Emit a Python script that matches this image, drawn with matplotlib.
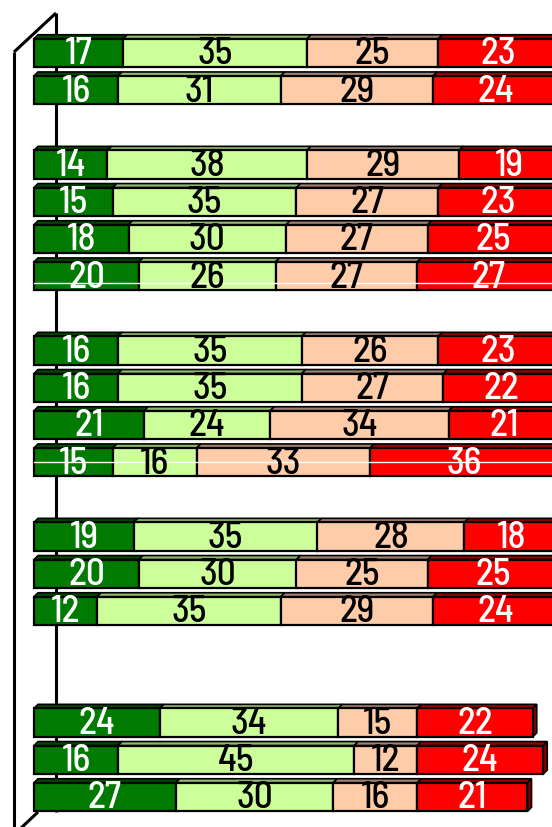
import matplotlib
matplotlib.use("Agg")
import matplotlib.pyplot as plt
from matplotlib.patches import Polygon
from matplotlib import font_manager

# Row slots (blank slots separate the groups)
rows = [0, 1, 3, 4, 5, 6, 8, 9, 10, 11, 13, 14, 15, 18, 19, 20]
very_good = [17, 16, 14, 15, 18, 20, 16, 16, 21, 15, 19, 20, 12, 24, 16, 27]
good      = [35, 31, 38, 35, 30, 26, 35, 35, 24, 16, 35, 30, 35, 34, 45, 30]
poor      = [25, 29, 29, 27, 27, 27, 26, 27, 34, 33, 28, 25, 29, 15, 12, 16]
very_poor = [23, 24, 19, 23, 25, 27, 23, 22, 21, 36, 18, 25, 24, 22, 24, 21]

series = [very_good, good, poor, very_poor]
face_colors = ["#007A00", "#CCFF99", "#FFCCAA", "#FF0000"]
top_colors = ["#004A00", "#8FB86B", "#A08070", "#990000"]
text_colors = ["white", "black", "black", "white"]

names = {f.name for f in font_manager.fontManager.ttflist}
label_font = "DejaVu Sans"
for cand in ["Liberation Sans Narrow", "Barlow Semi Condensed", "Archivo Narrow"]:
    if cand in names:
        label_font = cand
        break

W, H, DPI = 552, 827, 100
fig = plt.figure(figsize=(W / DPI, H / DPI), dpi=DPI)
ax = fig.add_axes([0, 0, 1, 1])
ax.set_axis_off()

# pixel geometry of the plot
x0_px, px_per_unit = 34, 5.25
y0_px, px_per_row = 53, 37.2
ax.set_xlim(-x0_px / px_per_unit, (W - x0_px) / px_per_unit)
ax.set_ylim((H - y0_px) / px_per_row, -y0_px / px_per_row)

def px(xp, yp):
    return ((xp - x0_px) / px_per_unit, (yp - y0_px) / px_per_row)

# back wall and floor edges
wall = dict(color="black", lw=2.2, zorder=1, solid_capstyle="butt")
ax.plot(*zip(px(56, 13), px(56, 812)), **wall)
ax.plot(*zip(px(14, 52), px(14, 830)), **wall)
ax.plot(*zip(px(14, 52), px(56, 13)), **wall)
ax.plot(*zip(px(38, 812), px(20, 829)), **wall)

bar_h = 28.5 / px_per_row
dx = 4.0 / px_per_unit
dy = 4.0 / px_per_row

for i, r in enumerate(rows):
    left = 0
    top = r - bar_h / 2
    bot = r + bar_h / 2
    for s, vals in enumerate(series):
        v = vals[i]
        right = left + v
        ax.barh(r, v, left=left, height=bar_h, color=face_colors[s],
                edgecolor="black", linewidth=1.6, zorder=3)
        ax.add_patch(Polygon([(left, top), (right, top), (right + dx, top - dy),
                              (left + dx, top - dy)], closed=True,
                             facecolor=top_colors[s], edgecolor="black",
                             linewidth=1.2, zorder=2))
        if s == len(series) - 1:
            ax.add_patch(Polygon([(right, top), (right + dx, top - dy),
                                  (right + dx, bot - dy), (right, bot)], closed=True,
                                 facecolor="#880000", edgecolor="black",
                                 linewidth=1.2, zorder=2))
        ax.text(left + v / 2, r + 0.04, str(v), ha="center", va="center",
                fontsize=27, fontweight="medium", color=text_colors[s],
                family=label_font, zorder=5)
        left = right

# thin white rules across two of the bars
for r, off in [(6, 7 / px_per_row), (11, 0)]:
    ax.plot([0, 110], [r + off, r + off], color="white", lw=1.0, zorder=4)

fig.savefig("out.png", dpi=DPI)
